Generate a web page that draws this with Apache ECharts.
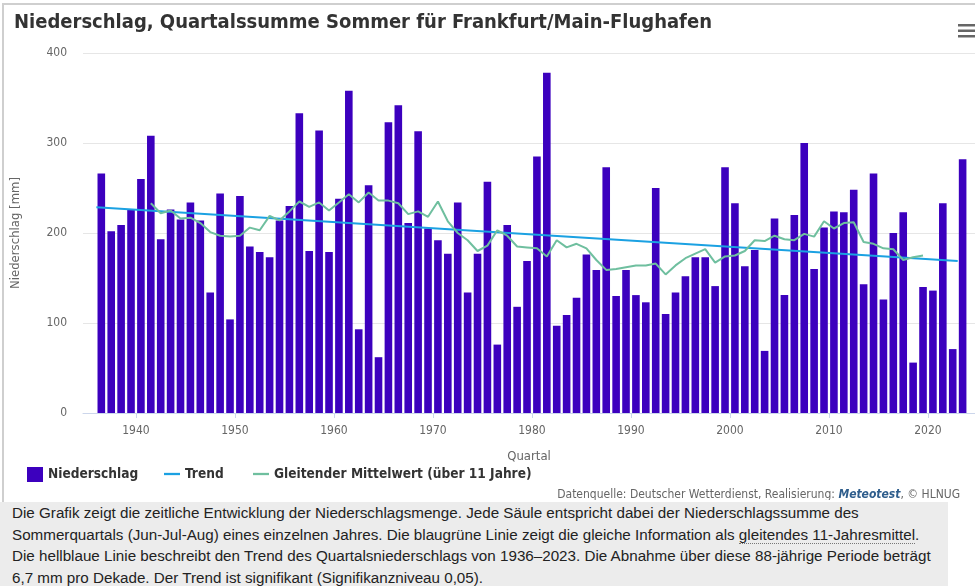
<!DOCTYPE html>
<html>
<head>
<meta charset="utf-8">
<script src="https://cdn.jsdelivr.net/npm/echarts@6/dist/echarts.min.js"></script>
<style>
  body { margin: 0; background: #fff; }
  #frame {
    position: absolute; left: 2px; top: 3px; width: 973px; height: 497px;
    border-left: 2px solid #cfcfcf; border-top: 2px solid #cfcfcf;
  }
  #chart { position: absolute; left: 0; top: 0; width: 975px; height: 500px; }
  #caption {
    position: absolute; left: 0; top: 502px; width: 948px; height: 84px;
    background: #ececec; color: #222;
    font-family: "Liberation Sans", Arial, sans-serif;
    font-size: 15.2px; line-height: 21.5px; padding-left: 12px; box-sizing: border-box;
    white-space: nowrap;
  }
  #caption .dot { border-bottom: 1px dotted #777; }
</style>
</head>
<body>
<div id="frame"></div>
<div id="chart"></div>
<div id="caption">
Die Grafik zeigt die zeitliche Entwicklung der Niederschlagsmenge. Jede Säule entspricht dabei der Niederschlagssumme des<br>
Sommerquartals (Jun-Jul-Aug) eines einzelnen Jahres. Die blaugrüne Linie zeigt die gleiche Information als <span class="dot">gleitendes 11-Jahresmittel</span>.<br>
Die hellblaue Linie beschreibt den Trend des Quartalsniederschlags von 1936–2023. Die Abnahme über diese 88-jährige Periode beträgt<br>
6,7 mm pro Dekade. Der Trend ist signifikant (<span class="dot">Signifikanzniveau 0,05</span>).
</div>
<script>
// Jahre (Sommerquartal)
var years = [
  1936, 1937, 1938, 1939, 1940, 1941, 1942, 1943, 1944, 1945,
  1946, 1947, 1948, 1949, 1950, 1951, 1952, 1953, 1954, 1955,
  1956, 1957, 1958, 1959, 1960, 1961, 1962, 1963, 1964, 1965,
  1966, 1967, 1968, 1969, 1970, 1971, 1972, 1973, 1974, 1975,
  1976, 1977, 1978, 1979, 1980, 1981, 1982, 1983, 1984, 1985,
  1986, 1987, 1988, 1989, 1990, 1991, 1992, 1993, 1994, 1995,
  1996, 1997, 1998, 1999, 2000, 2001, 2002, 2003, 2004, 2005,
  2006, 2007, 2008, 2009, 2010, 2011, 2012, 2013, 2014, 2015,
  2016, 2017, 2018, 2019, 2020, 2021, 2022, 2023
];

// Niederschlag [mm]
var precip = [
  266, 202, 209, 226, 260, 308, 193, 226, 215, 234,
  214, 134, 244, 104, 241, 185, 179, 173, 214, 230,
  333, 180, 314, 179, 238, 358, 93, 253, 62, 323,
  342, 211, 313, 205, 192, 177, 234, 134, 177, 257,
  76, 209, 118, 169, 285, 378, 97, 109, 128, 176,
  159, 273, 130, 159, 131, 123, 250, 110, 134, 152,
  173, 173, 141, 273, 233, 163, 181, 69, 216, 131,
  220, 300, 160, 206, 224, 223, 248, 143, 266, 126,
  200, 223, 56, 140, 136, 233, 71, 282
];

// gleitender Mittelwert (11 Jahre), 1941 - 2019
var maYears = years.slice(5, 84);
var movingAvg = [
  233, 222, 225, 216, 217, 211, 201, 197, 196, 197,
  206, 203, 219, 214, 224, 235, 229, 234, 225, 234,
  243, 234, 245, 236, 236, 233, 221, 224, 218, 235,
  213, 200, 192, 180, 186, 203, 197, 185, 184, 183,
  174, 192, 184, 188, 183, 170, 159, 160, 162, 164,
  164, 166, 154, 164, 172, 177, 182, 167, 174, 175,
  180, 192, 191, 197, 193, 192, 199, 196, 213, 205,
  211, 212, 190, 188, 183, 182, 170, 173, 175
];

// Trend (Anfang / Ende)
var trendYears = [1936, 2023];
var trendValues = [228.5, 169];

var xTicks = [1940, 1950, 1960, 1970, 1980, 1990, 2000, 2010, 2020];
var yTicks = [0, 100, 200, 300, 400];

var condensed = '"DejaVu Sans Condensed", "DejaVu Sans", sans-serif';
var lineIcon = 'path://M0,0 L14,0 L14,2 L0,2 Z';

function legendItem(left, name, icon) {
  return {
    left: left,
    top: 462,
    itemWidth: 16,
    itemHeight: 15,
    textStyle: { color: '#333', fontSize: 13.6, fontWeight: 'bold', fontFamily: condensed },
    data: [{ name: name, icon: icon }]
  };
}

var chart = echarts.init(document.getElementById('chart'));
chart.setOption({
  animation: false,
  textStyle: { fontFamily: condensed },
  title: [
    {
      text: 'Niederschlag, Quartalssumme Sommer für Frankfurt/Main-Flughafen',
      left: 9,
      top: 8,
      textStyle: { color: '#333', fontSize: 20, fontWeight: 'bold', fontFamily: condensed }
    },
    {
      text: '{a|Datenquelle: Deutscher Wetterdienst, Realisierung: }{b|Meteotest}{a|, © HLNUG}',
      right: 10,
      top: 484,
      textStyle: {
        fontWeight: 'normal',
        rich: {
          a: { color: '#666', fontSize: 12, fontWeight: 'normal', fontFamily: condensed },
          b: { color: '#2e5d8c', fontSize: 12, fontWeight: 'bold', fontStyle: 'italic', fontFamily: condensed }
        }
      }
    }
  ],
  graphic: [
    { type: 'rect', left: 958, top: 24, shape: { width: 18, height: 2.5 }, style: { fill: '#666' } },
    { type: 'rect', left: 958, top: 29.5, shape: { width: 18, height: 2.5 }, style: { fill: '#666' } },
    { type: 'rect', left: 958, top: 35, shape: { width: 18, height: 2.5 }, style: { fill: '#666' } }
  ],
  legend: [
    legendItem(22, 'Niederschlag', 'rect'),
    legendItem(159, 'Trend', lineIcon),
    legendItem(248, 'Gleitender Mittelwert (über 11 Jahre)', lineIcon)
  ],
  grid: { left: 83, right: 0, top: 53, height: 360 },
  xAxis: {
    type: 'value',
    min: 1934.65,
    max: 2024.75,
    name: 'Quartal',
    nameLocation: 'middle',
    nameGap: 37,
    nameTextStyle: { color: '#666', fontSize: 13 },
    axisLine: { show: true, lineStyle: { color: '#ccd6eb' } },
    axisTick: { show: true, length: 5, customValues: xTicks, lineStyle: { color: '#ccd6eb' } },
    axisLabel: {
      customValues: xTicks, color: '#666', fontSize: 12, margin: 12,
      formatter: function (v) { return String(v); }
    },
    splitLine: { show: false }
  },
  yAxis: {
    type: 'value',
    min: yTicks[0],
    max: yTicks[yTicks.length - 1],
    interval: 100,
    name: 'Niederschlag [mm]',
    nameLocation: 'middle',
    nameGap: 61,
    nameTextStyle: { color: '#666', fontSize: 13 },
    axisLine: { show: false },
    axisTick: { show: false },
    axisLabel: { color: '#666', fontSize: 12, margin: 16 },
    splitLine: { lineStyle: { color: '#e6e6e6' } }
  },
  series: [
    {
      name: 'Niederschlag',
      type: 'bar',
      barWidth: 7.6,
      itemStyle: { color: '#3c00be' },
      data: years.map(function (y, i) { return [y + 0.5, precip[i]]; })
    },
    {
      name: 'Trend',
      type: 'line',
      symbol: 'none',
      lineStyle: { color: '#1ba1e2', width: 2 },
      itemStyle: { color: '#1ba1e2' },
      data: trendYears.map(function (y, i) { return [y, trendValues[i]]; })
    },
    {
      name: 'Gleitender Mittelwert (über 11 Jahre)',
      type: 'line',
      symbol: 'none',
      lineStyle: { color: '#6fbf9f', width: 2 },
      itemStyle: { color: '#6fbf9f' },
      data: maYears.map(function (y, i) { return [y + 0.5, movingAvg[i]]; })
    }
  ]
});
</script>
</body>
</html>
